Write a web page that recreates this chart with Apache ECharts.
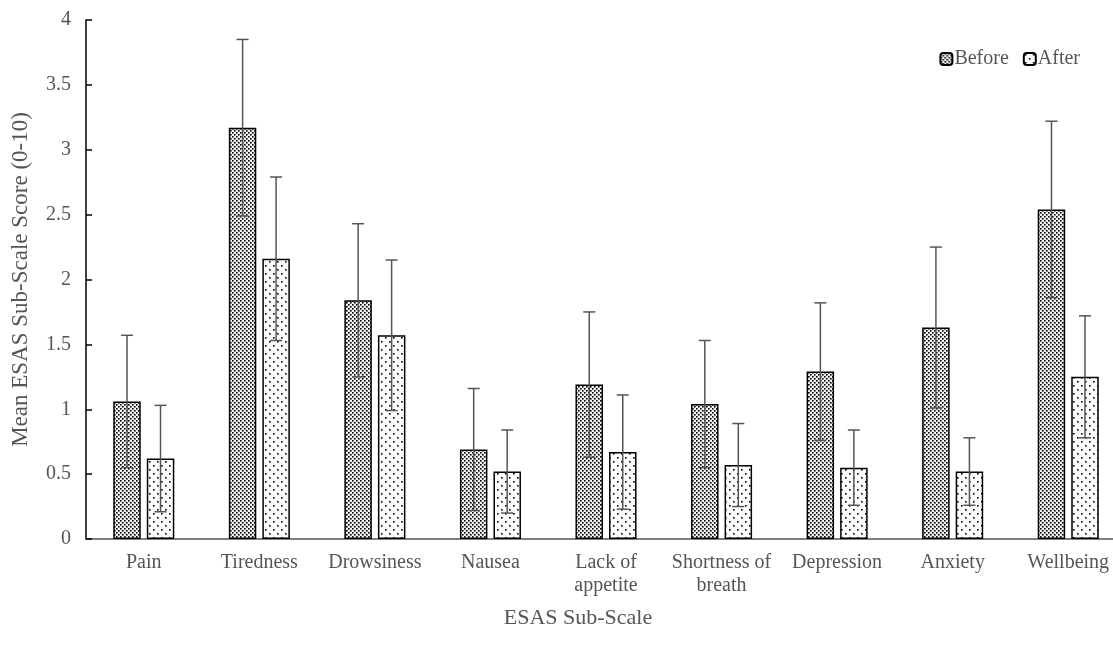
<!DOCTYPE html>
<html>
<head>
<meta charset="utf-8">
<script src="https://cdn.jsdelivr.net/npm/echarts@6/dist/echarts.min.js"></script>
<style>
  html, body { margin: 0; padding: 0; background: #fff; overflow: hidden; }
  /* chart is a bit wider than the window: the last category is cut at the edge */
  #chart { width: 1126px; height: 654px; }
</style>
</head>
<body>
<div id="chart"></div>
<script>
// ESAS sub-scales
const categories = [
  "Pain", "Tiredness", "Drowsiness", "Nausea", "Lack of\nappetite",
  "Shortness of\nbreath", "Depression", "Anxiety", "Wellbeing",
];
const beforeMean = [1.06, 3.17, 1.84, 0.69, 1.19, 1.04, 1.29, 1.63, 2.54];
const beforeSd = [0.51, 0.68, 0.59, 0.47, 0.56, 0.49, 0.53, 0.62, 0.68];
const afterMean = [0.62, 2.16, 1.57, 0.52, 0.67, 0.57, 0.55, 0.52, 1.25];
const afterSd = [0.41, 0.63, 0.58, 0.32, 0.44, 0.32, 0.29, 0.26, 0.47];
const yTicks = [0, 0.5, 1, 1.5, 2, 2.5, 3, 3.5, 4];

const font = "Liberation Serif";
const textColor = "#555";
const barW = 27.5;
const offset = 16.75; // half of bar + gap

// fill patterns
function makePattern(size, dots, r, bg) {
  const c = document.createElement("canvas");
  c.width = size;
  c.height = size;
  const ctx = c.getContext("2d");
  ctx.fillStyle = bg;
  ctx.fillRect(0, 0, size, size);
  ctx.fillStyle = "#000";
  dots.forEach((d) => ctx.fillRect(d[0], d[1], r, r));
  return c;
}
const densePat = makePattern(4, [[0, 0], [2, 2]], 1.6, "#f2f2f2");
const sparsePat = makePattern(8, [[1, 1], [5, 5]], 1.6, "#fff");

const errData = (mean, sd) => mean.map((m, i) => [i, m - sd[i], m + sd[i]]);

const errRender = (shift) => (params, api) => {
  const lo = api.coord([api.value(0), api.value(1)]);
  const hi = api.coord([api.value(0), api.value(2)]);
  const x = lo[0] + shift;
  const cap = 6;
  const st = { stroke: "#555", lineWidth: 1.5 };
  return {
    type: "group",
    children: [
      { type: "line", shape: { x1: x, y1: hi[1], x2: x, y2: lo[1] }, style: st },
      { type: "line", shape: { x1: x - cap, y1: hi[1], x2: x + cap, y2: hi[1] }, style: st },
      { type: "line", shape: { x1: x - cap, y1: lo[1], x2: x + cap, y2: lo[1] }, style: st },
    ],
  };
};

const chart = echarts.init(document.getElementById("chart"));
chart.setOption({
  animation: false,
  backgroundColor: "#fff",
  grid: { left: 86, right: 0, top: 20, bottom: 115 },
  legend: {
    right: 41,
    top: 44,
    itemWidth: 12,
    itemHeight: 12,
    itemGap: 14,
    textStyle: { fontFamily: font, fontSize: 20, color: textColor, padding: [0, 0, 0, -3] },
    data: ["Before", "After"],
  },
  xAxis: {
    type: "category",
    data: categories,
    name: "ESAS Sub-Scale",
    nameLocation: "middle",
    nameGap: 68,
    nameTextStyle: { fontFamily: font, fontSize: 22, color: textColor, padding: [0, 56, 0, 0] },
    axisLine: { lineStyle: { color: "#555", width: 1.5 } },
    axisTick: { show: false },
    axisLabel: {
      fontFamily: font,
      fontSize: 20,
      color: textColor,
      margin: 12,
      lineHeight: 23,
      interval: 0,
    },
  },
  yAxis: {
    type: "value",
    min: 0,
    max: 4,
    interval: 0.5,
    name: "Mean ESAS Sub-Scale Score (0-10)",
    nameLocation: "middle",
    nameGap: 54,
    nameTextStyle: { fontFamily: font, fontSize: 23, color: textColor },
    axisLine: { show: true, lineStyle: { color: "#000", width: 1.5 } },
    axisTick: { show: true, inside: true, length: 6, lineStyle: { color: "#000", width: 1.5 } },
    axisLabel: {
      fontFamily: font,
      fontSize: 20,
      color: textColor,
      margin: 15,
      formatter: (v) => (yTicks.includes(v) ? String(v) : ""),
    },
    splitLine: { show: false },
  },
  series: [
    {
      name: "Before",
      type: "bar",
      data: beforeMean,
      barWidth: barW,
      barGap: "22%",
      itemStyle: {
        color: { image: densePat, repeat: "repeat" },
        borderColor: "#000",
        borderWidth: 1.5,
      },
    },
    {
      name: "After",
      type: "bar",
      data: afterMean,
      barWidth: barW,
      itemStyle: {
        color: { image: sparsePat, repeat: "repeat" },
        borderColor: "#000",
        borderWidth: 1.5,
      },
    },
    {
      type: "custom",
      renderItem: errRender(-offset),
      encode: { x: 0, y: [1, 2] },
      data: errData(beforeMean, beforeSd),
      z: 5,
    },
    {
      type: "custom",
      renderItem: errRender(offset),
      encode: { x: 0, y: [1, 2] },
      data: errData(afterMean, afterSd),
      z: 5,
    },
  ],
});
</script>
</body>
</html>
